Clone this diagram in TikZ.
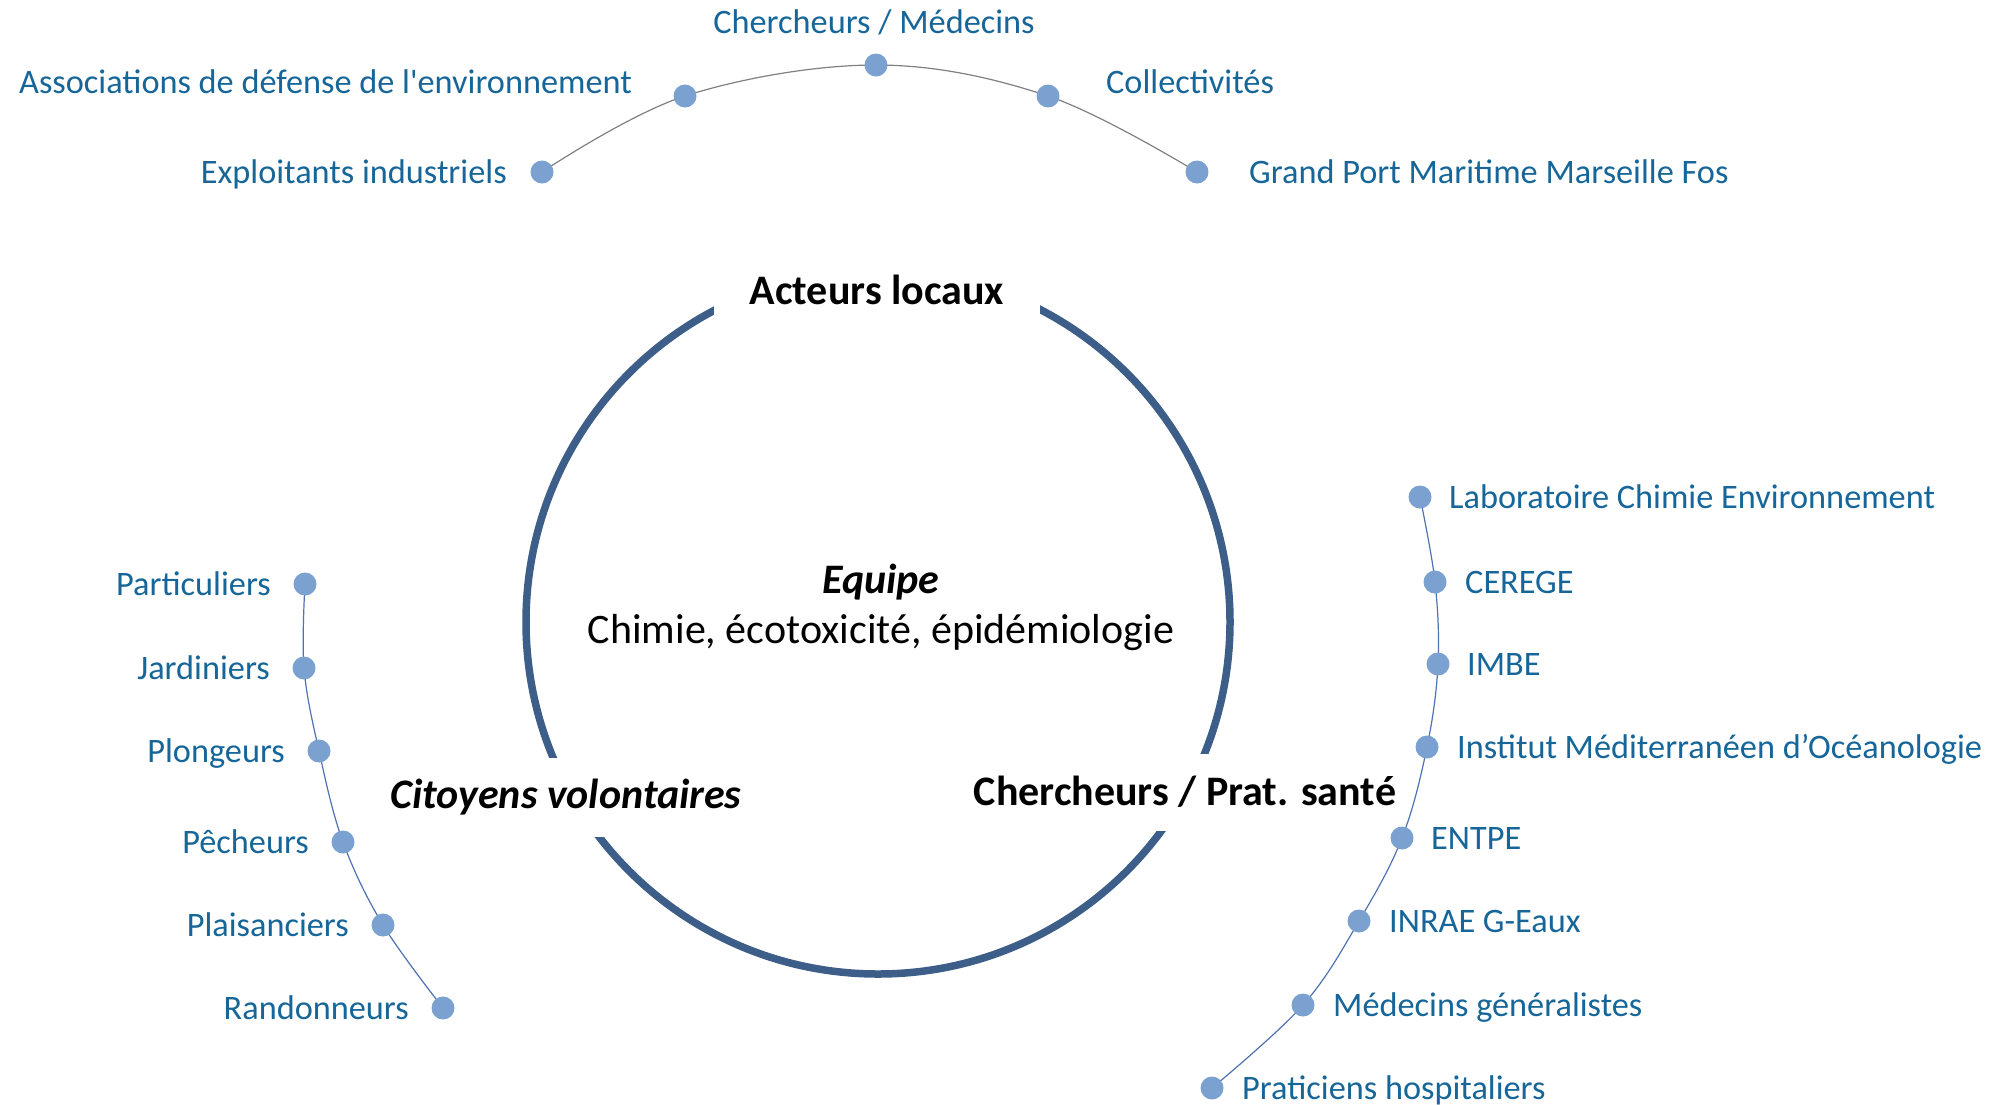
\documentclass[tikz,border=0pt]{standalone}
\usepackage{fontspec}
\setmainfont{Carlito}
\usetikzlibrary{backgrounds}
\definecolor{lblc}{RGB}{22,102,153}
\definecolor{dotc}{RGB}{123,161,209}
\definecolor{ringc}{RGB}{62,94,138}
\definecolor{linkbc}{RGB}{79,114,176}
\definecolor{linkgc}{RGB}{128,128,128}
\newcommand\sqt{\XeTeXglyph\XeTeXcharglyph"0027\relax}
\begin{document}
\begin{tikzpicture}[x=1pt,y=-1pt,
 dotn/.style={circle,fill=dotc,inner sep=0pt,minimum size=23pt},
 lbl/.style={text=lblc,font=\fontsize{34.3}{41}\selectfont,inner sep=0pt,yshift=-9pt},
 lbll/.style={lbl,anchor=mid east},
 lblr/.style={lbl,anchor=mid west},
 head/.style={font=\fontsize{42}{50}\selectfont\bfseries,inner sep=0pt,fill=white},
 headit/.style={head,font=\fontsize{42}{50}\selectfont\bfseries\itshape},
 glink/.style={draw=linkgc,line width=1.2pt},
 blink/.style={draw=linkbc,line width=1.2pt}]
\useasboundingbox (0,0) rectangle (2009,1104);
% central ring
\node[circle,draw=ringc,line width=7.5pt,minimum size=704pt,inner sep=0pt] (ring) at (878,622) {};
\node[head,minimum width=326pt,minimum height=50pt] (acteurs) at (877,290) {Acteurs locaux};
\node[headit,minimum height=79pt] (citoyens) at (566,797) {Citoyens volontaires};
\node[head,minimum height=77pt] (prat) at (1185,792) {Chercheurs / Prat. santé};
\node[font=\fontsize{42}{50}\selectfont\bfseries\itshape,inner sep=0pt,anchor=mid] (equipe) at (881,591) {Equipe};
\node[font=\fontsize{42}{50}\selectfont,inner sep=0pt,anchor=mid] (chimie) at (881,641) {Chimie, écotoxicité, épidémiologie};
% top group
\node[dotn] (t1) at (542,172) {};
\node[dotn] (t2) at (685,96) {};
\node[dotn] (t3) at (876,65) {};
\node[dotn] (t4) at (1048,96) {};
\node[dotn] (t5) at (1197,172) {};
\node[lbll] (t1l) at (507,172) {Exploitants industriels};
\node[lbll] (t2l) at (632,82) {Associations de défense de l\sqt environnement};
\node[lbl,anchor=mid] (t3l) at (874,22) {Chercheurs / Médecins};
\node[lblr] (t4l) at (1106,82) {Collectivités};
\node[lblr] (t5l) at (1249,172) {Grand Port Maritime Marseille Fos};
% left group
\node[dotn] (p1) at (305,584) {};
\node[dotn] (p2) at (304,668) {};
\node[dotn] (p3) at (319,751) {};
\node[dotn] (p4) at (343,842) {};
\node[dotn] (p5) at (383,925) {};
\node[dotn] (p6) at (443,1008) {};
\node[lbll] (p1l) at (271,584) {Particuliers};
\node[lbll] (p2l) at (270,668) {Jardiniers};
\node[lbll] (p3l) at (285,751) {Plongeurs};
\node[lbll] (p4l) at (309,842) {Pêcheurs};
\node[lbll] (p5l) at (349,925) {Plaisanciers};
\node[lbll] (p6l) at (409,1008) {Randonneurs};
% right group
\node[dotn] (r1) at (1420,497) {};
\node[dotn] (r2) at (1435,582) {};
\node[dotn] (r3) at (1438,664) {};
\node[dotn] (r4) at (1427,747) {};
\node[dotn] (r5) at (1402,838) {};
\node[dotn] (r6) at (1359,921) {};
\node[dotn] (r7) at (1303,1005) {};
\node[dotn] (r8) at (1212,1088) {};
\node[lblr] (r1l) at (1449,497) {Laboratoire Chimie Environnement};
\node[lblr] (r2l) at (1465,582) {CEREGE};
\node[lblr] (r3l) at (1467,664) {IMBE};
\node[lblr] (r4l) at (1457,747) {Institut Méditerranéen d’Océanologie};
\node[lblr] (r5l) at (1431,838) {ENTPE};
\node[lblr] (r6l) at (1389,921) {INRAE G-Eaux};
\node[lblr] (r7l) at (1333,1005) {Médecins généralistes};
\node[lblr] (r8l) at (1242,1088) {Praticiens hospitaliers};
\begin{scope}[on background layer]
\draw[glink] plot[smooth,tension=0.6] coordinates {(t1) (t2) (t3) (t4) (t5)};
\draw[blink] plot[smooth,tension=0.6] coordinates {(p1) (p2) (p3) (p4) (p5) (p6)};
\draw[blink] plot[smooth,tension=0.6] coordinates {(r1) (r2) (r3) (r4) (r5) (r6) (r7) (r8)};
\end{scope}
\end{tikzpicture}
\end{document}
